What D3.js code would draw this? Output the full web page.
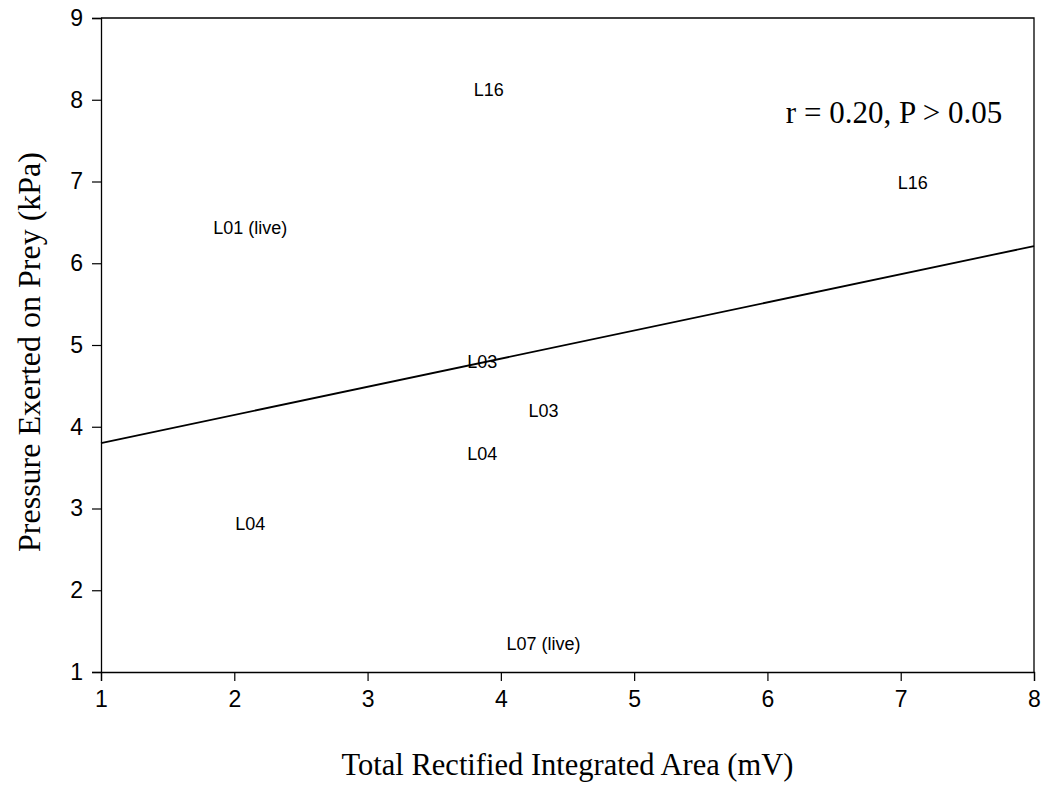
<!DOCTYPE html>
<html lang="en">
<head>
<meta charset="utf-8">
<script src="https://d3js.org/d3.v7.min.js"></script>
<style>
	body { margin: 0; background: #fff; }
	svg { display: block; }
	.tick text { font-family: Arial, 'Liberation Sans', sans-serif; font-size: 23px; fill: #000; }
	.pt-label { font-family: Arial, 'Liberation Sans', sans-serif; font-size: 18px; fill: #000; }
	.title { font-family: 'Times New Roman', 'Liberation Serif', serif; font-size: 30.5px; fill: #000; }
</style>
</head>
<body>
<div id="chart"></div>
<script>

var width = 1047, height = 785;

// data
var labels = ["L16", "L16", "L01 (live)", "L03", "L03", "L04", "L04", "L07 (live)"];
var xVals  = [3.91, 7.09, 2.12, 3.86, 4.32, 3.86, 2.12, 4.32];
var yVals  = [8.12, 6.99, 6.44, 4.80, 4.20, 3.67, 2.81, 1.35];

// regression line end points
var fitX = [1, 8];
var fitY = [3.80, 6.21];

var xTicks = [1, 2, 3, 4, 5, 6, 7, 8];
var yTicks = [1, 2, 3, 4, 5, 6, 7, 8, 9];

var stat = "r = 0.20, P > 0.05";

var margin = {top: 18, right: 13, bottom: 113, left: 101};

var x = d3.scaleLinear().domain([1, 8]).range([margin.left, width - margin.right]);
var y = d3.scaleLinear().domain([1, 9]).range([height - margin.bottom, margin.top]);

var svg = d3.select("#chart").append("svg")
	.attr("width", width)
	.attr("height", height);

// frame (top and right edges)
svg.append("path")
	.attr("d", "M" + x(1) + "," + y(9) + "H" + x(8) + "V" + y(1))
	.attr("fill", "none")
	.attr("stroke", "#000")
	.attr("stroke-width", 1.3);

var xAxis = svg.append("g")
	.attr("transform", "translate(0," + y(1) + ")")
	.call(d3.axisBottom(x).tickValues(xTicks).tickSize(9).tickPadding(10).tickFormat(d3.format("d")));

var yAxis = svg.append("g")
	.attr("transform", "translate(" + x(1) + ",0)")
	.call(d3.axisLeft(y).tickValues(yTicks).tickSize(9).tickPadding(9).tickFormat(d3.format("d")));

[xAxis, yAxis].forEach(function(a) {
	a.select(".domain").attr("stroke-width", 1.3);
	a.selectAll(".tick line").attr("stroke-width", 1.2);
});

// fitted line
svg.append("line")
	.attr("x1", x(fitX[0])).attr("y1", y(fitY[0]))
	.attr("x2", x(fitX[1])).attr("y2", y(fitY[1]))
	.attr("stroke", "#000")
	.attr("stroke-width", 1.8);

// points are drawn as their labels
svg.selectAll(".pt-label")
	.data(labels)
	.enter()
	.append("text")
	.attr("class", "pt-label")
	.attr("x", function(d, i) { return x(xVals[i]); })
	.attr("y", function(d, i) { return y(yVals[i]); })
	.attr("dy", "0.35em")
	.attr("text-anchor", "middle")
	.text(function(d) { return d; });

svg.append("text")
	.attr("class", "title")
	.attr("x", x(6.95))
	.attr("y", y(7.72))
	.attr("text-anchor", "middle")
	.style("font-size", "31px")
	.text(stat);

svg.append("text")
	.attr("class", "title")
	.attr("x", (x(1) + x(8)) / 2)
	.attr("y", 775)
	.attr("text-anchor", "middle")
	.text("Total Rectified Integrated Area (mV)");

svg.append("text")
	.attr("class", "title")
	.attr("transform", "translate(40,352) rotate(-90)")
	.attr("text-anchor", "middle")
	.style("font-size", "32px")
	.text("Pressure Exerted on Prey (kPa)");

</script>
</body>
</html>
